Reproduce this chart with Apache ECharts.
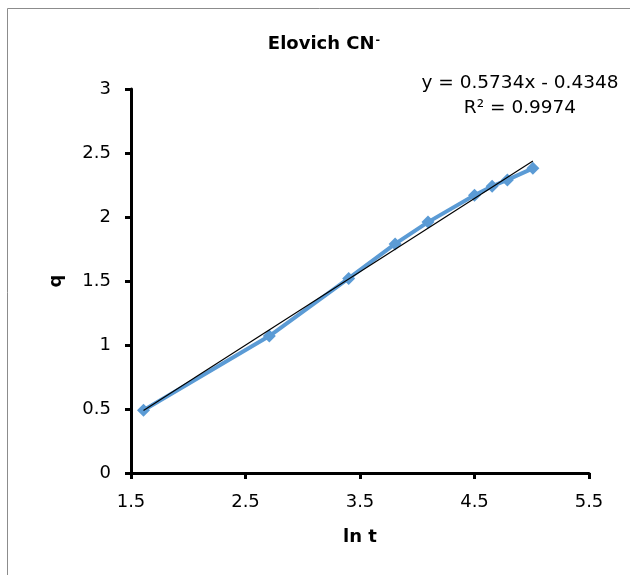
<!DOCTYPE html>
<html>
<head>
<meta charset="utf-8">
<script src="https://cdn.jsdelivr.net/npm/echarts@6/dist/echarts.min.js"></script>
<style>
  html, body { margin: 0; padding: 0; background: #fff; }
  #chart { width: 630px; height: 575px; }
</style>
</head>
<body>
<div id="chart"></div>
<script>
// ln t 与 q 的数据
const lnT = [1.609, 2.708, 3.401, 3.807, 4.094, 4.5, 4.654, 4.787, 5.01];
const qVals = [0.49, 1.07, 1.52, 1.79, 1.96, 2.17, 2.24, 2.29, 2.38];
// 图上给出的趋势线参数
const slope = 0.5734;
const intercept = -0.4348;
const r2 = 0.9974;

const font = "DejaVu Sans";
let chart = echarts.init(document.getElementById("chart"));

const xFirst = lnT[0];
const xLast = lnT[lnT.length - 1];
const trend = [
	[xFirst, slope * xFirst + intercept],
	[xLast, slope * xLast + intercept],
];

const option = {
	backgroundColor: "#fff",
	animation: false,
	title: {
		text: "{a|Elovich CN}{b|-}",
		left: 319,
		top: 30,
		textAlign: "center",
		textStyle: {
			rich: {
				a: { fontFamily: font, fontWeight: "bold", fontSize: 18, color: "#000" },
				b: { fontFamily: font, fontWeight: "bold", fontSize: 11, color: "#000", verticalAlign: "top", padding: [0, 0, 8, 1] },
			},
		},
	},
	graphic: [
		{
			type: "rect",
			shape: { x: 7.5, y: 8.5, width: 640, height: 600 },
			style: { fill: "none", stroke: "#8c8c8c", lineWidth: 1 },
			silent: true,
		},
		{
			type: "text",
			x: 520,
			y: 83,
			style: {
				text: "y = " + slope + "x - " + Math.abs(intercept),
				font: "18.5px " + font,
				fill: "#000",
				align: "center",
				verticalAlign: "middle",
			},
		},
		{
			type: "text",
			x: 520,
			y: 108,
			style: {
				text: "R² = " + r2,
				font: "18.5px " + font,
				fill: "#000",
				align: "center",
				verticalAlign: "middle",
			},
		},
	],
	grid: { left: 131, right: 41, top: 89, bottom: 102 },
	xAxis: {
		type: "value",
		min: 1.5,
		max: 5.5,
		interval: 1,
		name: "ln t",
		nameLocation: "middle",
		nameGap: 55,
		nameTextStyle: { fontFamily: font, fontWeight: "bold", fontSize: 18, color: "#000" },
		axisLine: { onZero: false, lineStyle: { color: "#000", width: 3 } },
		axisTick: { show: true, length: 6, lineStyle: { color: "#000", width: 3 } },
		axisLabel: { fontFamily: font, fontSize: 18, color: "#000", margin: 20 },
		splitLine: { show: false },
	},
	yAxis: {
		type: "value",
		min: 0,
		max: 3,
		interval: 0.5,
		name: "q",
		nameLocation: "middle",
		nameGap: 66,
		nameRotate: 90,
		nameTextStyle: { fontFamily: font, fontWeight: "bold", fontSize: 18, color: "#000" },
		axisLine: { show: true, lineStyle: { color: "#000", width: 3 } },
		axisTick: { show: true, length: 6, lineStyle: { color: "#000", width: 3 } },
		axisLabel: { fontFamily: font, fontSize: 18, color: "#000", margin: 20 },
		splitLine: { show: false },
	},
	series: [
		{
			name: "q",
			type: "line",
			data: lnT.map((x, i) => [x, qVals[i]]),
			symbol: "diamond",
			symbolSize: 13,
			itemStyle: { color: "#5b9bd5" },
			lineStyle: { color: "#5b9bd5", width: 4 },
			z: 2,
		},
		{
			name: "trend",
			type: "line",
			data: trend,
			symbol: "none",
			lineStyle: { color: "#000", width: 1.2 },
			z: 3,
		},
	],
};

chart.setOption(option);
</script>
</body>
</html>
